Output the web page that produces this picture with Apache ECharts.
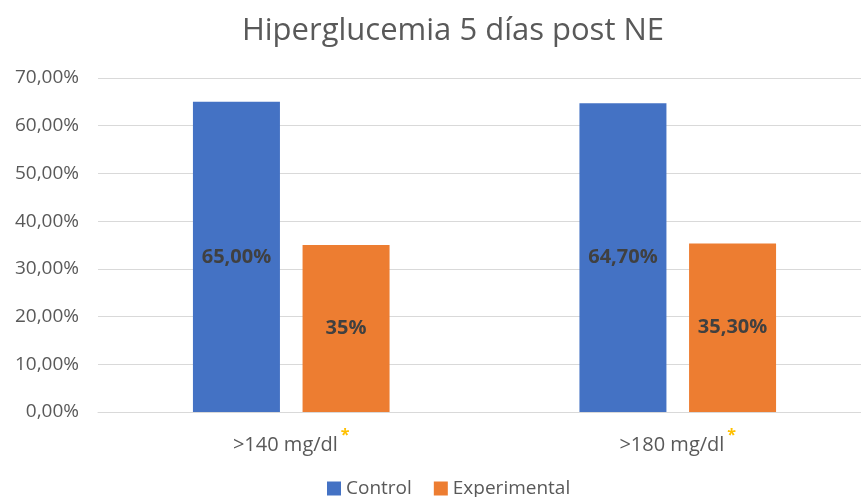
<!DOCTYPE html>
<html>
<head>
<meta charset="utf-8">
<title>Hiperglucemia 5 días post NE</title>
<script src="https://cdn.jsdelivr.net/npm/echarts@6/dist/echarts.min.js"></script>
<style>
  html, body { margin: 0; padding: 0; background: #fff; }
  #myChart { width: 861px; height: 497px; }
</style>
</head>
<body>
<div id="myChart"></div>
<script>
// datos
var categories = [">140 mg/dl", ">180 mg/dl"];
var control = [65.0, 64.7];
var experimental = [35.0, 35.3];
// etiquetas tal como aparecen en las barras
var controlLabels = ["65,00%", "64,70%"];
var experimentalLabels = ["35%", "35,30%"];

var chart = echarts.init(document.getElementById("myChart"));

function pct(v) {
  return v.toFixed(2).replace(".", ",") + "%";
}

var labelStyle = {
  show: true,
  position: "inside",
  fontFamily: "Open Sans",
  fontSize: 20,
  fontWeight: "bold",
  color: "#404040",
};

var option = {
  animation: false,
  title: {
    text: "Hiperglucemia 5 días post NE",
    left: 448,
    textAlign: "center",
    top: 11,
    textStyle: {
      fontFamily: "Open Sans",
      fontSize: 31,
      fontWeight: "normal",
      color: "#595959",
    },
  },
  legend: {
    data: ["Control", "Experimental"],
    bottom: -6,
    left: 322,
    icon: "rect",
    itemWidth: 14,
    itemHeight: 14,
    itemGap: 22,
    textStyle: {
      fontFamily: "Open Sans",
      fontSize: 19,
      color: "#595959",
    },
  },
  grid: {
    left: 98,
    top: 78,
    width: 773,
    height: 334,
    outerBoundsMode: "none",
  },
  xAxis: {
    type: "category",
    data: categories,
    axisTick: { show: false },
    axisLine: { lineStyle: { color: "#d9d9d9" } },
    axisLabel: {
      margin: 15,
      formatter: function (v) {
        return "{t|" + v + "}{s|*}";
      },
      rich: {
        t: { fontFamily: "Open Sans", fontSize: 20, color: "#595959" },
        s: { fontFamily: "Open Sans", fontSize: 16, fontWeight: "bold", color: "#FFC000", padding: [0, 0, 20, 3] },
      },
    },
  },
  yAxis: {
    type: "value",
    min: 0,
    max: 70,
    interval: 10,
    axisLine: { show: false },
    axisTick: { show: false },
    splitLine: { lineStyle: { color: "#d9d9d9", width: 1 } },
    axisLabel: {
      margin: 19,
      fontFamily: "Open Sans",
      fontSize: 19,
      color: "#595959",
      formatter: pct,
    },
  },
  series: [
    {
      name: "Control",
      type: "bar",
      data: control,
      barWidth: 87,
      barGap: "26%",
      itemStyle: { color: "#4472C4" },
      label: Object.assign({}, labelStyle, {
        formatter: function (p) { return controlLabels[p.dataIndex]; },
      }),
    },
    {
      name: "Experimental",
      type: "bar",
      data: experimental,
      barWidth: 87,
      itemStyle: { color: "#ED7D31" },
      label: Object.assign({}, labelStyle, {
        formatter: function (p) { return experimentalLabels[p.dataIndex]; },
      }),
    },
  ],
};

chart.setOption(option);
</script>
</body>
</html>
